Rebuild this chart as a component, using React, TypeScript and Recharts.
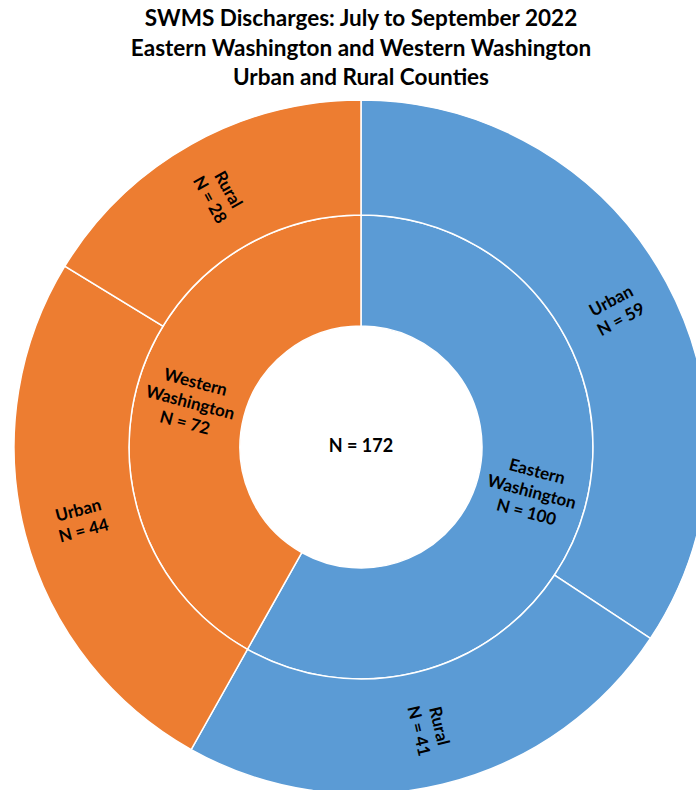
import React from 'react';
import { PieChart, Pie, Cell } from 'recharts';

// Regions (inner ring)
const regionNames = ['Eastern Washington', 'Western Washington'];
const regionCounts = [100, 72];

// Urban / rural split per region (outer ring)
const areaNames = ['Urban', 'Rural', 'Urban', 'Rural'];
const areaCounts = [59, 41, 44, 28];
const areaRegion = [0, 0, 1, 1];

const totalCount = 172;

const titleLines = [
  'SWMS Discharges: July to September 2022',
  'Eastern Washington and Western Washington',
  'Urban and Rural Counties',
];

const regionColors = ['#5B9BD5', '#ED7D31'];

const FONT = 'Lato, "Noto Sans", sans-serif';
const RAD = Math.PI / 180;

const innerData = regionNames.map((name, i) => ({ name, value: regionCounts[i] }));
const outerData = areaNames.map((name, i) => ({ name, value: areaCounts[i] }));

const makeLabel = (linesFor: (i: number) => string[], fontSize: number, lineHeight: number) =>
  (props: any) => {
    const { cx, cy, midAngle, innerRadius, outerRadius, index } = props;
    const r = (innerRadius + outerRadius) / 2;
    const x = cx + r * Math.cos(-midAngle * RAD);
    const y = cy + r * Math.sin(-midAngle * RAD);
    // radial text, never upside down
    let rot = -midAngle;
    while (rot > 90) rot -= 180;
    while (rot <= -90) rot += 180;
    const lines = linesFor(index);
    const first = -((lines.length - 1) / 2) * lineHeight + fontSize * 0.35;
    return (
      <text
        key={`lbl-${index}`}
        x={x}
        y={y}
        transform={`rotate(${rot}, ${x}, ${y})`}
        textAnchor="middle"
        fontFamily={FONT}
        fontWeight="bold"
        fontSize={fontSize}
        fill="#000"
      >
        {lines.map((l, i) => (
          <tspan key={i} x={x} dy={i === 0 ? first : lineHeight}>
            {l}
          </tspan>
        ))}
      </text>
    );
  };

const innerLabel = makeLabel(
  (i) => [...regionNames[i].split(' '), `N = ${regionCounts[i]}`],
  17,
  21
);
const outerLabel = makeLabel((i) => [areaNames[i], `N = ${areaCounts[i]}`], 17, 21);

export default function App() {
  const cx = 361;
  const cy = 447;
  return (
    <div style={{ position: 'absolute', left: 0, top: 0, width: 696, height: 790, background: '#fff' }}>
      <div
        style={{
          position: 'absolute',
          left: 0,
          width: 722,
          top: 3,
          textAlign: 'center',
          fontFamily: FONT,
          fontWeight: 'bold',
          fontSize: 22.5,
          lineHeight: '29.5px',
          color: '#000',
        }}
      >
        {titleLines.map((t) => (
          <div key={t}>{t}</div>
        ))}
      </div>
      <PieChart
        width={696}
        height={790}
        margin={{ top: 0, right: 0, bottom: 0, left: 0 }}
        style={{ position: 'absolute', left: 0, top: 0 }}
      >
        <Pie
          data={innerData}
          dataKey="value"
          cx={cx}
          cy={cy}
          innerRadius={121}
          outerRadius={232}
          startAngle={90}
          endAngle={-270}
          stroke="#fff"
          strokeWidth={1.5}
          labelLine={false}
          label={innerLabel}
          isAnimationActive={false}
        >
          {innerData.map((d, i) => (
            <Cell key={d.name} fill={regionColors[i]} />
          ))}
        </Pie>
        <Pie
          data={outerData}
          dataKey="value"
          cx={cx}
          cy={cy}
          innerRadius={232}
          outerRadius={347}
          startAngle={90}
          endAngle={-270}
          stroke="#fff"
          strokeWidth={1.5}
          labelLine={false}
          label={outerLabel}
          isAnimationActive={false}
        >
          {outerData.map((d, i) => (
            <Cell key={i} fill={regionColors[areaRegion[i]]} />
          ))}
        </Pie>
      </PieChart>
      <div
        style={{
          position: 'absolute',
          left: cx - 60,
          width: 120,
          top: cy - 13,
          textAlign: 'center',
          fontFamily: FONT,
          fontWeight: 'bold',
          fontSize: 18,
          lineHeight: '22px',
          color: '#000',
        }}
      >
        {`N = ${totalCount}`}
      </div>
    </div>
  );
}
